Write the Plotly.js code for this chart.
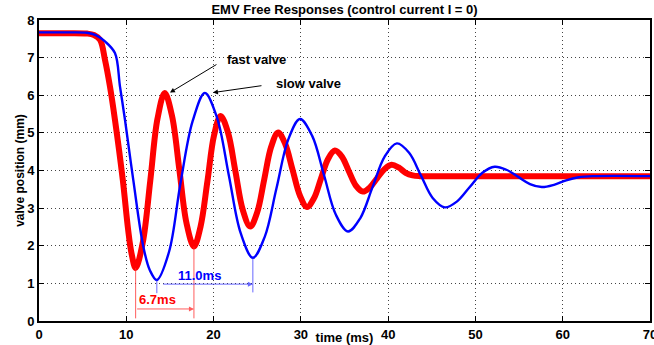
<!DOCTYPE html>
<html>
<head>
<meta charset="utf-8">
<script src="https://cdn.plot.ly/plotly-3.0.1.min.js"></script>
<style>
  html, body { margin: 0; padding: 0; background: #fff; }
  #chart { width: 654px; height: 345px; }
</style>
</head>
<body>
<div id="chart"></div>
<script>
// Fast valve free response: time (ms) and valve position (mm)
const fastTime = [0, 3, 5.5, 6.3, 7.0, 7.56, 8.13, 8.7, 9.6, 10.2, 10.6, 11.07,
  11.9, 12.75, 13.57, 14.4, 15.24, 16.08, 16.9, 17.75, 18.5, 19.3, 20.05, 20.8,
  21.65, 22.5, 23.35, 24.2, 25.0, 25.8, 26.6, 27.4, 28.2, 29.05, 29.9, 30.7,
  31.5, 32.3, 33.1, 33.9, 34.7, 35.5, 36.3, 37.1, 37.9, 38.75, 39.6, 40.4,
  41.2, 42.0, 42.8, 43.6, 45, 55, 70];
const fastPos = [7.65, 7.65, 7.64, 7.6, 7.47, 6.94, 6.23, 5.35, 3.75, 2.45, 1.8, 1.41,
  2.1, 3.73, 5.37, 6.06, 5.45, 4.02, 2.6, 1.98, 2.5, 3.72, 4.93, 5.45,
  5.01, 3.98, 2.95, 2.51, 2.89, 3.76, 4.63, 5.01, 4.71, 4.02, 3.33, 3.03,
  3.26, 3.78, 4.3, 4.53, 4.37, 3.98, 3.6, 3.44, 3.55, 3.8, 4.04, 4.15,
  4.08, 3.94, 3.87, 3.85, 3.85, 3.85, 3.85];

// Slow valve free response
const slowTime = [0, 3, 5.5, 6.5, 7.56, 8.7, 9.28, 9.85, 10.8, 11.95, 12.7, 13.5,
  14.9, 16.2, 17.6, 19.0, 20.4, 21.75, 23.1, 24.5, 25.85, 27.2, 28.55, 29.9,
  31.3, 32.65, 34.0, 35.4, 36.8, 38.2, 39.6, 41.0, 42.4, 43.75, 45.1, 46.5,
  47.9, 49.35, 50.8, 52.2, 53.55, 54.9, 56.25, 57.6, 59.0, 60.4, 61.8, 63.5, 70];
const slowPos = [7.67, 7.67, 7.66, 7.6, 7.43, 7.12, 6.23, 5.35, 3.75, 1.98, 1.35, 1.09,
  1.84, 3.65, 5.31, 6.06, 5.4, 3.87, 2.34, 1.68, 2.23, 3.52, 4.82, 5.37,
  4.92, 3.88, 2.83, 2.38, 2.73, 3.55, 4.37, 4.72, 4.47, 3.87, 3.27, 3.02,
  3.18, 3.56, 3.94, 4.1, 4.02, 3.83, 3.64, 3.56, 3.62, 3.74, 3.82, 3.85, 3.85];

const titleText = 'EMV Free Responses (control current I = 0)';
const xLabel = 'time (ms)';
const yLabel = 'valve position (mm)';
const xTicks = [0, 10, 20, 30, 40, 50, 60, 70];
const yTicks = [0, 1, 2, 3, 4, 5, 6, 7, 8];

// first two local minima of a response: the span between them is one period
function firstMinima(t, v) {
  const out = [];
  for (let i = 1; i < v.length - 1 && out.length < 2; i++) {
    if (v[i] < v[i - 1] && v[i] < v[i + 1]) out.push({ t: t[i], v: v[i] });
  }
  return out;
}

const fastMin = firstMinima(fastTime, fastPos);
const slowMin = firstMinima(slowTime, slowPos);
const fastPeriod = (fastMin[1].t - fastMin[0].t).toFixed(1) + 'ms';
const slowPeriod = (slowMin[1].t - slowMin[0].t).toFixed(1) + 'ms';

const font = { family: 'Liberation Sans, Arial, sans-serif', color: '#000', weight: 'bold' };
const f = (size, color) => Object.assign({}, font, { size: size }, color ? { color: color } : {});
const redMark = 'rgba(255,40,40,0.75)';
const blueMark = 'rgba(40,40,255,0.7)';

const traces = [
  { x: fastTime, y: fastPos, type: 'scatter', mode: 'lines', name: 'fast valve',
    line: { color: '#ff0000', width: 6, shape: 'spline', smoothing: 1 }, hoverinfo: 'skip' },
  { x: slowTime, y: slowPos, type: 'scatter', mode: 'lines', name: 'slow valve',
    line: { color: '#0000ff', width: 2.4, shape: 'spline', smoothing: 1 }, hoverinfo: 'skip' }
];

const shapes = [
  // fast valve period markers
  { type: 'line', xref: 'x', yref: 'y', x0: fastMin[0].t, x1: fastMin[0].t, y0: fastMin[0].v, y1: 0.07,
    line: { color: redMark, width: 1 } },
  { type: 'line', xref: 'x', yref: 'y', x0: fastMin[1].t, x1: fastMin[1].t, y0: fastMin[1].v, y1: 0.07,
    line: { color: redMark, width: 1 } },
  // slow valve period markers
  { type: 'line', xref: 'x', yref: 'y', x0: slowMin[0].t, x1: slowMin[0].t, y0: slowMin[0].v, y1: 0.74,
    line: { color: blueMark, width: 1 } },
  { type: 'line', xref: 'x', yref: 'y', x0: slowMin[1].t, x1: slowMin[1].t, y0: slowMin[1].v, y1: 0.76,
    line: { color: blueMark, width: 1 } }
];

const annotations = [
  { x: fastMin[1].t, y: 0.32, ax: fastMin[0].t, ay: 0.32, axref: 'x', ayref: 'y', xref: 'x', yref: 'y',
    text: '', showarrow: true, arrowhead: 2, arrowsize: 1, arrowwidth: 1, arrowcolor: redMark, standoff: 0 },
  { x: (fastMin[0].t + fastMin[1].t) / 2 - 0.8, y: 0.56, xref: 'x', yref: 'y', text: fastPeriod,
    showarrow: false, font: f(13, '#ff0000') },
  { x: slowMin[1].t, y: 0.98, ax: slowMin[0].t + 0.55, ay: 0.98, axref: 'x', ayref: 'y', xref: 'x', yref: 'y',
    text: '', showarrow: true, arrowhead: 2, arrowsize: 1, arrowwidth: 1, arrowcolor: blueMark, standoff: 0 },
  { x: (slowMin[0].t + slowMin[1].t) / 2 - 0.6, y: 1.22, xref: 'x', yref: 'y', text: slowPeriod,
    showarrow: false, font: f(13, '#0000ff') },
  // curve labels with pointers
  { x: 15.0, y: 6.07, ax: 20.5, ay: 6.84, axref: 'x', ayref: 'y', xref: 'x', yref: 'y',
    text: '', showarrow: true, arrowhead: 2, arrowsize: 1, arrowwidth: 1, arrowcolor: '#000', standoff: 0 },
  { x: 24.97, y: 6.94, xref: 'x', yref: 'y', text: 'fast valve', showarrow: false, font: f(13) },
  { x: 19.93, y: 6.07, ax: 25.66, ay: 6.26, axref: 'x', ayref: 'y', xref: 'x', yref: 'y',
    text: '', showarrow: true, arrowhead: 2, arrowsize: 1, arrowwidth: 1, arrowcolor: '#000', standoff: 0 },
  { x: 30.93, y: 6.32, xref: 'x', yref: 'y', text: 'slow valve', showarrow: false, font: f(13) }
];

const axisCommon = {
  showline: true, linecolor: '#000', linewidth: 2, mirror: 'ticks',
  ticks: 'inside', ticklen: 5, tickwidth: 1, tickcolor: '#000',
  showgrid: true, gridcolor: '#444', gridwidth: 1, griddash: '1px,3px',
  zeroline: false, tickfont: f(13), ticklabeloverflow: 'allow', fixedrange: true
};

const layout = {
  width: 654, height: 345,
  margin: { l: 39, r: 4, t: 20, b: 24 },
  paper_bgcolor: '#fff', plot_bgcolor: '#fff',
  showlegend: false,
  font: font,
  title: { text: titleText, font: f(13),
    x: 0.5268, xanchor: 'center', y: 0.972, yanchor: 'middle', yref: 'container' },
  xaxis: Object.assign({}, axisCommon, {
    range: [0, 70], tickvals: xTicks, ticktext: xTicks.map(String),
    title: { text: xLabel, font: f(13), standoff: 0 }
  }),
  yaxis: Object.assign({}, axisCommon, {
    range: [0, 8], tickvals: yTicks, ticktext: yTicks.map(String),
    title: { text: yLabel, font: f(12), standoff: 0 }
  }),
  shapes: shapes,
  annotations: annotations
};

Plotly.newPlot('chart', traces, layout, { displayModeBar: false, staticPlot: true });
</script>
</body>
</html>
